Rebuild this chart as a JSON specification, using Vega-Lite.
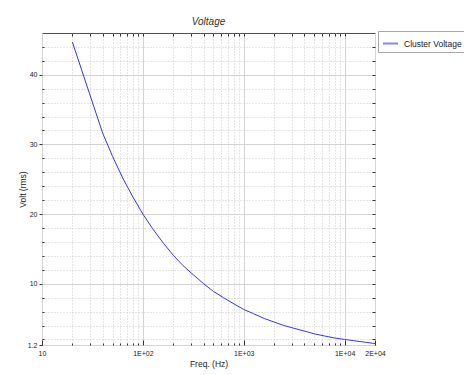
{
  "$schema": "https://vega.github.io/schema/vega-lite/v6.json",
  "autosize": "none",
  "width": 333,
  "height": 312,
  "padding": {"left": 42, "top": 33, "right": 89, "bottom": 30},
  "background": "white",
  "config": {
    "view": {"stroke": "#505050", "strokeWidth": 1},
    "font": "Liberation Sans",
    "axis": {"labelFont": "Liberation Sans", "titleFont": "Liberation Sans", "labelColor": "#222", "titleColor": "#222", "titleFontWeight": "normal"}
  },
  "title": {"text": "Voltage", "fontStyle": "italic", "fontWeight": "normal", "fontSize": 10, "color": "#333", "offset": 4, "font": "Liberation Sans"},
  "data": {"values": [
    {"freq": 20, "volt": 44.7, "series": "Cluster Voltage"},
    {"freq": 40, "volt": 31.6, "series": "Cluster Voltage"},
    {"freq": 50, "volt": 28.3, "series": "Cluster Voltage"},
    {"freq": 63, "volt": 25.2, "series": "Cluster Voltage"},
    {"freq": 80, "volt": 22.4, "series": "Cluster Voltage"},
    {"freq": 100, "volt": 20.0, "series": "Cluster Voltage"},
    {"freq": 125, "volt": 17.9, "series": "Cluster Voltage"},
    {"freq": 160, "volt": 15.8, "series": "Cluster Voltage"},
    {"freq": 200, "volt": 14.1, "series": "Cluster Voltage"},
    {"freq": 250, "volt": 12.6, "series": "Cluster Voltage"},
    {"freq": 315, "volt": 11.3, "series": "Cluster Voltage"},
    {"freq": 400, "volt": 10.0, "series": "Cluster Voltage"},
    {"freq": 500, "volt": 8.9, "series": "Cluster Voltage"},
    {"freq": 630, "volt": 8.0, "series": "Cluster Voltage"},
    {"freq": 800, "volt": 7.1, "series": "Cluster Voltage"},
    {"freq": 1000, "volt": 6.3, "series": "Cluster Voltage"},
    {"freq": 1250, "volt": 5.7, "series": "Cluster Voltage"},
    {"freq": 1600, "volt": 5.0, "series": "Cluster Voltage"},
    {"freq": 2000, "volt": 4.5, "series": "Cluster Voltage"},
    {"freq": 2500, "volt": 4.0, "series": "Cluster Voltage"},
    {"freq": 3150, "volt": 3.6, "series": "Cluster Voltage"},
    {"freq": 4000, "volt": 3.2, "series": "Cluster Voltage"},
    {"freq": 5000, "volt": 2.8, "series": "Cluster Voltage"},
    {"freq": 6300, "volt": 2.5, "series": "Cluster Voltage"},
    {"freq": 8000, "volt": 2.2, "series": "Cluster Voltage"},
    {"freq": 10000, "volt": 2.0, "series": "Cluster Voltage"},
    {"freq": 12500, "volt": 1.8, "series": "Cluster Voltage"},
    {"freq": 16000, "volt": 1.6, "series": "Cluster Voltage"},
    {"freq": 20000, "volt": 1.4, "series": "Cluster Voltage"}
  ]},
  "resolve": {"axis": {"x": "independent", "y": "independent"}},
  "layer": [
    {
      "mark": {"type": "line", "strokeOpacity": 0},
      "encoding": {
        "x": {"field": "freq", "type": "quantitative",
          "scale": {"type": "log", "domain": [10, 20000], "nice": false},
          "axis": {"orient": "bottom", "values": [20,30,40,50,60,70,80,90,200,300,400,500,600,700,800,900,2000,3000,4000,5000,6000,7000,8000,9000],
            "grid": true, "gridDash": [1, 2], "gridColor": "#cccccc", "ticks": true, "tickSize": -2, "tickColor": "#333",
            "labels": false, "domain": false, "title": null}},
        "y": {"field": "volt", "type": "quantitative",
          "scale": {"domain": [1.2, 46], "nice": false, "zero": false},
          "axis": {"orient": "left", "values": [2,4,6,8,12,14,16,18,22,24,26,28,32,34,36,38,42,44],
            "grid": true, "gridDash": [1, 2], "gridColor": "#cccccc", "ticks": true, "tickSize": -2, "tickColor": "#333",
            "labels": false, "domain": false, "title": null}}
      }
    },
    {
      "mark": {"type": "line", "strokeOpacity": 0},
      "encoding": {
        "x": {"field": "freq", "type": "quantitative",
          "axis": {"orient": "top", "values": [20,30,40,50,60,70,80,90,100,200,300,400,500,600,700,800,900,1000,2000,3000,4000,5000,6000,7000,8000,9000,10000],
            "grid": false, "ticks": true, "tickSize": -3, "tickColor": "#333",
            "labels": false, "domain": false, "title": null}},
        "y": {"field": "volt", "type": "quantitative",
          "axis": {"orient": "right", "values": [2,4,6,8,10,12,14,16,18,20,22,24,26,28,30,32,34,36,38,40,42,44],
            "grid": false, "ticks": true, "tickSize": -3, "tickColor": "#333",
            "labels": false, "domain": false, "title": null}}
      }
    },
    {
      "mark": {"type": "line", "strokeWidth": 1},
      "encoding": {
        "x": {"field": "freq", "type": "quantitative",
          "axis": {"orient": "bottom", "values": [10, 100, 1000, 10000, 20000],
            "labelExpr": "datum.value == 10 ? '10' : datum.value == 100 ? '1E+02' : datum.value == 1000 ? '1E+03' : datum.value == 10000 ? '1E+04' : '2E+04'",
            "grid": true, "gridColor": "#d4d4d4", "gridWidth": 1, "ticks": true, "tickSize": -5, "tickColor": "#333",
            "labelFontSize": 7, "labelPadding": 9, "labelFlush": false, "domain": false,
            "title": "Freq. (Hz)", "titleFontSize": 8.5, "titlePadding": 3}},
        "y": {"field": "volt", "type": "quantitative",
          "axis": {"orient": "left", "values": [1.2, 10, 20, 30, 40],
            "grid": true, "gridColor": "#d4d4d4", "gridWidth": 1, "ticks": true, "tickSize": 3, "tickColor": "#333",
            "labelFontSize": 7, "labelPadding": 2, "labelExpr": "datum.value == 1.2 ? '1.2' : format(datum.value, 'd')", "domain": false,
            "title": "Volt (rms)", "titleFontSize": 8.5, "titlePadding": 0}},
        "color": {"field": "series", "type": "nominal",
          "scale": {"range": ["#3535ff"]},
          "legend": {"title": null, "orient": "none", "legendX": 336, "legendY": -2,
            "symbolType": "stroke", "symbolSize": 225, "symbolStrokeWidth": 2, "symbolOpacity": 0.6,
            "labelFontSize": 8.5, "labelFont": "Liberation Sans", "labelColor": "#222", "labelOffset": 5,
            "padding": 4, "fillColor": "white", "strokeColor": "#a8a8a8"}}
      }
    }
  ]
}
